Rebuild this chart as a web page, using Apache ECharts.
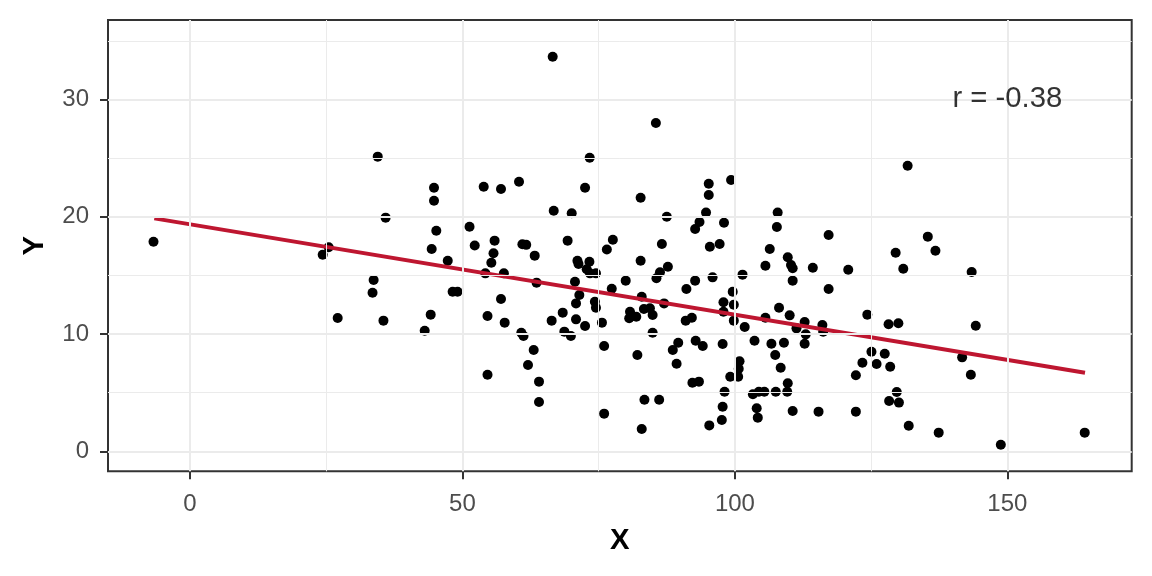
<!DOCTYPE html>
<html>
<head>
<meta charset="utf-8">
<script src="https://cdn.jsdelivr.net/npm/echarts@6/dist/echarts.min.js"></script>
<style>
html,body{margin:0;padding:0;background:#fff;}
#chart{width:1152px;height:576px;}
</style>
</head>
<body>
<div id="chart"></div>
<script>
// ---- data ----
const pointsX = [-6.7,25.45,24.35,27.1,33.7,33.5,34.45,66.56,44.78,44.78,35.9,45.2,44.35,53.9,57.07,60.38,73.35,72.5,66.75,70.05,51.3,52.25,55.9,61.0,61.7,69.3,77.6,76.5,47.3,35.5,43.07,44.17,48.2,49.1,55.7,55.3,54.2,57.6,63.26,63.6,57.07,54.6,57.75,60.8,61.2,63.07,62.03,54.6,64.05,64.05,66.37,68.4,68.7,69.9,70.84,72.5,70.65,71.1,71.3,73.3,72.8,73.4,74.5,71.45,70.84,74.3,74.5,75.6,76.0,76.0,77.4,79.96,85.5,82.7,99.3,95.2,95.2,87.5,94.7,93.5,92.7,98.0,107.85,107.7,117.2,86.6,95.4,97.2,106.4,82.7,87.7,86.25,85.6,92.7,91.1,95.9,101.4,105.6,109.7,110.3,110.6,110.6,114.3,120.8,117.2,124.3,128.2,99.6,97.9,99.8,97.9,99.8,101.8,82.9,80.75,80.6,81.9,83.3,84.4,84.9,87.0,90.97,92.1,84.9,82.1,88.6,89.6,89.3,92.8,94.1,97.75,92.2,93.4,83.4,86.1,82.9,95.3,97.6,97.75,98.1,99.15,100.6,100.7,100.85,103.6,106.7,109.0,107.4,108.4,112.8,105.6,108.1,110.05,112.8,111.3,113.0,116.05,116.2,103.3,104.4,105.4,107.5,109.6,109.7,104.0,104.2,110.6,115.35,122.2,122.2,123.4,125.06,126.0,127.5,128.5,128.3,135.4,136.8,129.5,130.9,143.45,130.0,144.2,141.7,143.3,129.7,130.1,131.9,137.4,148.8,164.2,131.7];
const pointsY = [17.86,17.39,16.76,11.36,14.6,13.52,25.12,33.64,22.47,21.36,19.92,18.81,17.25,22.56,22.36,22.98,25.03,22.47,20.51,20.29,19.15,17.55,17.96,17.65,17.6,17.96,18.04,17.2,16.25,11.14,10.28,11.65,13.6,13.6,16.88,16.08,15.17,15.17,16.68,14.38,12.98,11.53,10.97,10.11,9.83,8.64,7.36,6.53,5.94,4.2,11.14,11.82,10.2,9.83,11.25,10.68,14.46,16.25,15.97,16.16,15.52,15.17,15.17,13.32,12.61,12.75,12.24,10.97,8.98,3.21,13.86,14.55,27.99,21.62,23.13,22.81,21.85,20.0,20.35,19.55,18.95,19.49,20.35,19.12,18.44,17.67,17.44,17.67,17.25,16.25,15.74,15.26,14.75,14.55,13.84,14.83,15.06,15.82,16.54,15.88,15.6,14.55,15.65,15.48,13.84,11.65,10.83,13.6,12.7,12.5,11.9,11.14,10.6,13.18,11.9,11.34,11.47,12.13,12.19,11.62,12.61,11.14,11.39,10.11,8.21,8.64,9.26,7.47,9.43,8.98,9.15,5.85,5.94,4.4,4.4,1.9,2.21,2.67,3.8,5.08,6.36,6.36,7.04,7.67,9.43,9.17,9.26,8.21,7.13,9.17,11.39,12.24,11.59,11.02,10.48,9.97,10.77,10.2,4.86,5.08,5.08,5.08,5.08,5.8,3.67,2.87,3.44,3.38,3.38,6.48,7.55,8.49,7.44,8.32,7.21,4.29,18.3,17.1,16.93,15.57,15.29,10.91,10.71,8.01,6.53,5.06,4.15,2.18,1.59,0.56,1.59,24.35];
// fitted line end points
const fitX = [-6.55, 164.25];
const fitY = [19.86, 6.70];
// annotation
const rLabel = 'r = -0.38';
const rLabelPos = [150, 30];
// ticks
const xMajor = [0, 50, 100, 150];
const xMinor = [25, 75, 125];
const yMajor = [0, 10, 20, 30];
const yMinor = [5, 15, 25, 35];
const xRange = [-15.05, 172.82];
const yRange = [-1.705, 36.77];

const FONT = '"Liberation Sans", Arial, Helvetica, sans-serif';
const GRID_COL = '#EBEBEB';

const scatterData = pointsX.map((x, i) => [x, pointsY[i]]);
const fitData = fitX.map((x, i) => [x, fitY[i]]);

const gridLines = [];
xMajor.forEach(v => gridLines.push({xAxis: v, lineStyle: {width: 2, color: GRID_COL, type: 'solid'}}));
xMinor.forEach(v => gridLines.push({xAxis: v, lineStyle: {width: 1, color: GRID_COL, type: 'solid'}}));
yMajor.forEach(v => gridLines.push({yAxis: v, lineStyle: {width: 2, color: GRID_COL, type: 'solid'}}));
yMinor.forEach(v => gridLines.push({yAxis: v, lineStyle: {width: 1, color: GRID_COL, type: 'solid'}}));

const chart = echarts.init(document.getElementById('chart'), null, {renderer: 'canvas'});
chart.setOption({
  animation: false,
  backgroundColor: '#ffffff',
  textStyle: {fontFamily: FONT},
  grid: {
    left: 108, right: 20.3, top: 20, bottom: 104.7,
    show: true, borderColor: '#333333', borderWidth: 2, backgroundColor: 'transparent',
    containLabel: false
  },
  xAxis: {
    type: 'value', min: xRange[0], max: xRange[1],
    splitLine: {show: false},
    axisLine: {show: false, onZero: false},
    axisTick: {show: true, length: 8, lineStyle: {color: '#333333', width: 2}, customValues: xMajor},
    axisLabel: {customValues: xMajor, color: '#4D4D4D', fontSize: 24, fontFamily: FONT, margin: 21},
    name: 'X', nameLocation: 'middle', nameGap: 55,
    nameTextStyle: {fontWeight: 'bold', fontSize: 29.3, color: '#000', fontFamily: FONT}
  },
  yAxis: {
    type: 'value', min: yRange[0], max: yRange[1],
    splitLine: {show: false},
    axisLine: {show: false, onZero: false},
    axisTick: {show: true, length: 8, lineStyle: {color: '#333333', width: 2}, customValues: yMajor},
    axisLabel: {customValues: yMajor, color: '#4D4D4D', fontSize: 24, fontFamily: FONT, margin: 19},
    name: 'Y', nameLocation: 'middle', nameGap: 59, nameRotate: 90,
    nameTextStyle: {fontWeight: 'bold', fontSize: 29.3, color: '#000', fontFamily: FONT}
  },
  series: [
    {
      name: 'gridlines', type: 'line', data: [], z: 1, silent: true,
      markLine: {silent: true, symbol: ['none', 'none'], label: {show: false}, animation: false, data: gridLines}
    },
    {
      name: 'points', type: 'scatter', data: scatterData, z: 3,
      symbol: 'circle', symbolSize: 10,
      itemStyle: {color: '#000000', opacity: 1}, silent: true
    },
    {
      name: 'fit', type: 'line', data: fitData, z: 4,
      showSymbol: false, symbol: 'none',
      lineStyle: {color: '#BE1630', width: 4}, silent: true
    },
    {
      name: 'label', type: 'scatter', data: [rLabelPos], z: 5,
      symbolSize: 1, itemStyle: {color: 'transparent'}, silent: true,
      label: {show: true, position: 'inside', formatter: rLabel, color: '#000000', fontSize: 29.3, fontFamily: FONT}
    }
  ]
});
</script>
</body>
</html>
